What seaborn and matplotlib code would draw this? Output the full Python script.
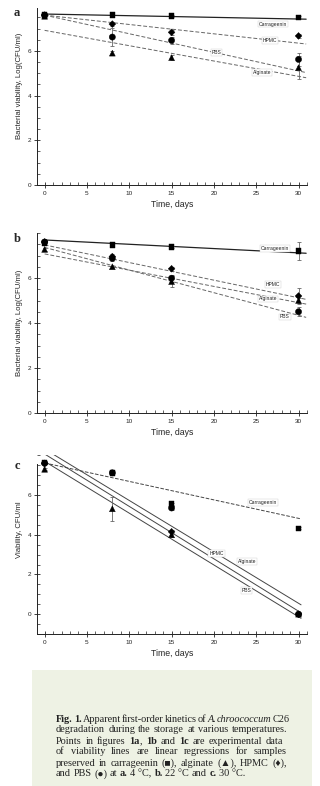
import matplotlib
matplotlib.use("Agg")
import matplotlib.pyplot as plt
from matplotlib.patches import Rectangle
from matplotlib.ticker import MultipleLocator
import numpy as np
import pandas as pd
import seaborn as sns

sns.set_style("ticks")
plt.rcParams['font.family'] = ['Liberation Sans', 'DejaVu Sans']

# sampling days
days = [0, 8, 15, 30]
samples = ["Carrageenin", "Alginate", "HPMC", "PBS"]

# panel a, 4 C
a_carr = [7.6, 7.6, 7.55, 7.5]
a_alg = [7.55, 5.9, 5.7, 5.25]
a_hpmc = [7.6, 7.2, 6.83, 6.67]
a_pbs = [7.6, 6.62, 6.47, 5.62]
a_carr_err = [0.05, 0.05, 0.05, 0.05]
a_alg_err = [0.05, 0.1, 0.1, 0.5]
a_hpmc_err = [0.05, 0.1, 0.12, 0.1]
a_pbs_err = [0.05, 0.4, 0.15, 0.28]

# panel b, 22 C
b_carr = [7.55, 7.47, 7.39, 7.2]
b_alg = [7.27, 6.5, 5.84, 5.0]
b_hpmc = [7.6, 6.95, 6.41, 5.2]
b_pbs = [7.6, 6.87, 5.99, 4.5]
b_carr_err = [0.05, 0.05, 0.05, 0.4]
b_alg_err = [0.05, 0.05, 0.25, 0.1]
b_hpmc_err = [0.05, 0.1, 0.1, 0.35]
b_pbs_err = [0.05, 0.1, 0.15, 0.2]

# panel c, 30 C
c_carr = [7.65, 7.12, 5.55, 4.32]
c_alg = [7.3, 5.31, 4.0, 0.0]
c_hpmc = [7.6, np.nan, 4.15, 0.0]
c_pbs = [7.6, 7.12, 5.35, 0.0]
c_carr_err = [0.05, 0.05, 0.05, 0.05]
c_alg_err = [0.05, 0.6, 0.1, 0.05]
c_hpmc_err = [0.05, 0.05, 0.1, 0.05]
c_pbs_err = [0.05, 0.05, 0.1, 0.05]

# regression lines: value at start and end day (carr, alg, hpmc, pbs)
a_fit_days = [0, 30.9]
a_fit = [(7.65, 7.42), (6.92, 4.8), (7.6, 6.31), (7.6, 5.03)]
b_fit_days = [0, 30.9]
b_fit = [(7.69, 7.1), (7.07, 4.84), (7.47, 5.05), (7.36, 4.25)]
c_fit_days = [0, 30.3]
c_fit = [(7.62, 4.8), (8.07, 0.07), (8.32, 0.47), (7.7, -0.21)]

# line label positions (day, value)
a_lab = [(27.0, 7.2), (25.7, 5.04), (26.6, 6.46), (20.3, 5.92)]
b_lab = [(27.2, 7.32), (26.4, 5.07), (27.0, 5.72), (28.4, 4.27)]
c_lab = [(25.8, 5.61), (23.9, 2.65), (20.3, 3.04), (23.85, 1.19)]

markers = {"Carrageenin": "s", "Alginate": "^", "HPMC": "D", "PBS": "o"}
sizes = {"Carrageenin": 16, "Alginate": 18, "HPMC": 12, "PBS": 20}

W, H = 320, 786
fig = plt.figure(figsize=(W / 100, H / 100), dpi=100)


def px_axes(left, top, right, bottom):
    return fig.add_axes([left / W, 1 - bottom / H, (right - left) / W, (bottom - top) / H])


def draw_panel(ax, vals, errs, fits, fit_days, labs, ylim, spine_top, ylabel, ylab_y, solid_all=False):
    rows = []
    for name, v in zip(samples, vals):
        for d, y in zip(days, v):
            rows.append({"day": d, "value": y, "sample": name})
    df = pd.DataFrame(rows).dropna()

    for i, name in enumerate(samples):
        if solid_all:
            ls = "--" if name == "Carrageenin" else "-"
            col = "#444444"
        else:
            ls = "-" if name == "Carrageenin" else (0, (4, 2))
            col = "#222222" if name == "Carrageenin" else "#666666"
        ax.plot(fit_days, fits[i], color=col, lw=0.7 if name != "Carrageenin" or solid_all else 0.9,
                ls=ls, zorder=2)
        ax.text(labs[i][0], labs[i][1], name, fontsize=3.6, ha="center", va="center", color="#222222",
                bbox=dict(facecolor="white", edgecolor="#cccccc", lw=0.3, pad=0.6), zorder=3)

    for v, e in zip(vals, errs):
        ax.errorbar(days, v, yerr=e, fmt="none", ecolor="#666666", elinewidth=0.6,
                    capsize=1.5, capthick=0.6, zorder=4)

    sns.scatterplot(data=df, x="day", y="value", style="sample", markers=markers,
                    size="sample", sizes=sizes, color="black", edgecolor="black",
                    linewidth=0.3, legend=False, ax=ax, zorder=5)

    ax.set_xlim(-0.9, 31.0)
    ax.set_ylim(*ylim)
    sns.despine(ax=ax)
    ax.spines["left"].set_bounds(ylim[0], spine_top)
    for s in ("left", "bottom"):
        ax.spines[s].set_linewidth(0.7)
        ax.spines[s].set_color("#222222")
    ax.xaxis.set_major_locator(MultipleLocator(5))
    ax.xaxis.set_minor_locator(MultipleLocator(1))
    ax.yaxis.set_major_locator(MultipleLocator(2))
    ax.yaxis.set_minor_locator(MultipleLocator(0.5))
    ax.set_yticks([0, 2, 4, 6])
    ax.tick_params(which="major", direction="inout", length=4, width=0.6, labelsize=4.6,
                   pad=2, colors="#222222")
    ax.tick_params(which="minor", direction="in", length=2, width=0.5, colors="#222222")
    ax.set_xlabel("Time, days", fontsize=6.3, labelpad=3)
    ax.set_ylabel(ylabel, fontsize=5.6)
    ax.yaxis.set_label_coords(-0.052, ylab_y)
    ax.patch.set_alpha(0)


ax_a = px_axes(37, 8, 307, 185)
draw_panel(ax_a, [a_carr, a_alg, a_hpmc, a_pbs], [a_carr_err, a_alg_err, a_hpmc_err, a_pbs_err],
           a_fit, a_fit_days, a_lab, (0, 7.92), 7.92, "Bacterial viability, Log(CFU/ml)", 0.56)

ax_b = px_axes(37, 233, 307, 413)
draw_panel(ax_b, [b_carr, b_alg, b_hpmc, b_pbs], [b_carr_err, b_alg_err, b_hpmc_err, b_pbs_err],
           b_fit, b_fit_days, b_lab, (0, 8.0), 8.0, "Bacterial viability, Log(CFU/ml)", 0.5)

ax_c = px_axes(37, 455.4, 307, 634)
draw_panel(ax_c, [c_carr, c_alg, c_hpmc, c_pbs], [c_carr_err, c_alg_err, c_hpmc_err, c_pbs_err],
           c_fit, c_fit_days, c_lab, (-1, 8.0), 7.55, "Viability, CFU/ml", 0.586, solid_all=True)

for lab, y in [("a", 13), ("b", 239), ("c", 466)]:
    fig.text(17 / W, 1 - y / H, lab, fontsize=9, fontweight="bold", ha="center", va="center",
             family=["Liberation Serif", "DejaVu Serif"])

# caption box
fig.patches.append(Rectangle((32 / W, 0), 280 / W, 116 / H, transform=fig.transFigure,
                             facecolor="#eef2e4", edgecolor="none", zorder=0))

cap_lines = [
    [("Fig.", "bold", "normal"), ("1.", "bold", "normal"), ("Apparent", "normal", "normal"),
     ("first-order", "normal", "normal"), ("kinetics", "normal", "normal"), ("of", "normal", "normal"),
     ("A.", "normal", "italic"), ("chroococcum", "normal", "italic"), ("C26", "normal", "normal")],
    [(w, "normal", "normal") for w in "degradation during the storage at various temperatures.".split()],
    [("Points", "normal", "normal"), ("in", "normal", "normal"), ("figures", "normal", "normal"),
     ("1a", "bold", "normal"), (",", "normal", "normal"), ("1b", "bold", "normal"), ("and", "normal", "normal"),
     ("1c", "bold", "normal"), ("are", "normal", "normal"), ("experimental", "normal", "normal"),
     ("data", "normal", "normal")],
    [(w, "normal", "normal") for w in "of viability lines are linear regressions for samples".split()],
    [(w, "normal", "normal") for w in "preserved in carrageenin (■), alginate (▲), HPMC (♦),".split()],
    [("and", "normal", "normal"), ("PBS", "normal", "normal"), ("(●)", "normal", "normal"),
     ("at", "normal", "normal"), ("a.", "bold", "normal"), ("4 °C,", "normal", "normal"),
     ("b.", "bold", "normal"), ("22 °C", "normal", "normal"), ("and", "normal", "normal"),
     ("c.", "bold", "normal"), ("30 °C.", "normal", "normal")],
]
cap_y = [719, 730, 741, 752, 763, 774]
x0, x1 = 56 / W, 287 / W
renderer = fig.canvas.get_renderer()
for k, (tokens, y) in enumerate(zip(cap_lines, cap_y)):
    objs, widths = [], []
    for txt, wt, st in tokens:
        t = fig.text(0, 1 - y / H, txt, fontsize=7.4, fontweight=wt, fontstyle=st, va="center",
                     ha="left", color="#222222", family=["Liberation Serif", "DejaVu Sans"])
        objs.append(t)
        widths.append(t.get_window_extent(renderer).width / fig.bbox.width)
    gap = 2.6 / W
    if k < len(cap_lines) - 1:
        gap = max((x1 - x0 - sum(widths)) / (len(objs) - 1), 1.0 / W)
    x = x0
    for t, w, tok in zip(objs, widths, tokens):
        if tok[0] == ",":
            x -= gap
        t.set_x(x)
        x += w + gap

fig.savefig("out.png", dpi=100)
